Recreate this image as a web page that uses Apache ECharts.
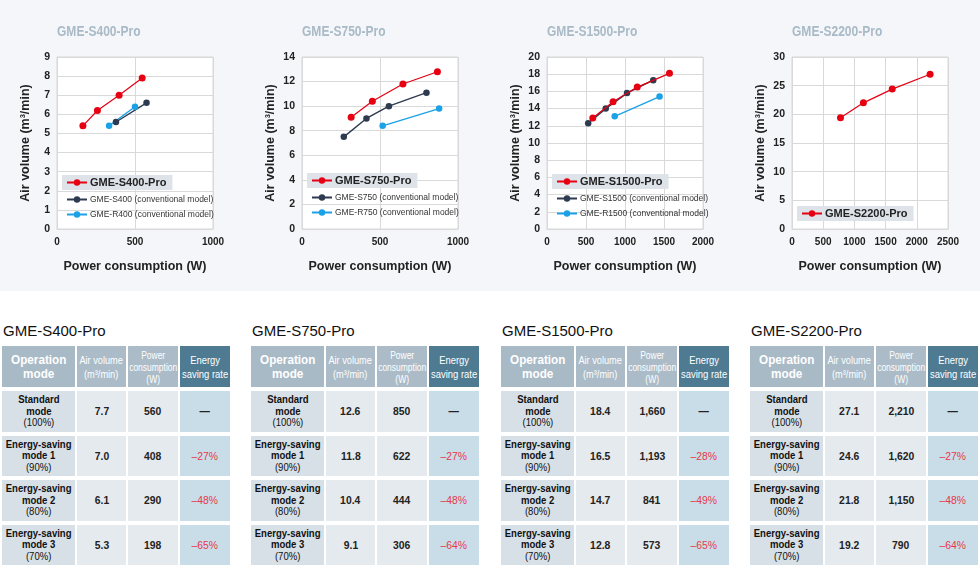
<!DOCTYPE html>
<html>
<head>
<meta charset="utf-8">
<script src="https://cdn.jsdelivr.net/npm/echarts@6/dist/echarts.min.js"></script>
<style>
  body { margin: 0; width: 980px; height: 567px; background: #fff; overflow: hidden; position: relative; font-family: 'Liberation Sans', Arial, sans-serif; }
  #chart { position: absolute; left: 0; top: 0; width: 980px; height: 291px; }
  .tbl { position: absolute; top: 321px; }
  .tbl h3 { margin: 0 0 0 3px; font-size: 15px; font-weight: normal; line-height: 20px; color: #111; }
  table { border-collapse: separate; border-spacing: 2px 4px; table-layout: fixed; width: 232px; margin-top: 1px; }
  td { padding: 0; text-align: center; vertical-align: middle; overflow: hidden; }
  td .f { display: flex; justify-content: center; align-items: center; height: 100%; }
  td .sq { display: inline-block; white-space: nowrap; transform-origin: 50% 50%; }
  tr.head td { height: 41px; color: #fff; }
  tr.body td { height: 40.5px; }
  .c1 { width: 73px; } .c2 { width: 49px; } .c3 { width: 50px; } .c4 { width: 50px; }
  tr.head .c1 { background: #a9bac7; font-size: 13px; font-weight: bold; line-height: 14px; }
  tr.head .c2 { background: #abbcc8; font-size: 11.5px; line-height: 14px; }
  tr.head .c3 { background: #abbcc8; font-size: 11px; line-height: 12px; }
  tr.head .c4 { background: #4e7b92; font-size: 11.5px; line-height: 14px; }
  tr.body .c1 { background: #d7e0e7; font-size: 11.5px; line-height: 11.5px; color: #111; }
  tr.body .c2, tr.body .c3 { background: #e5eaee; font-size: 11.5px; font-weight: bold; color: #222; }
  tr.body .c4 { background: #c9dde9; font-size: 11.5px; color: #e8374a; }
  tr.body .c4.none { color: #222; font-weight: bold; }
</style>
</head>
<body>
<div id="chart"></div>
<div id="tables"></div>
<script>
// ---- chart data ----
const chartTitles = ['GME-S400-Pro', 'GME-S750-Pro', 'GME-S1500-Pro', 'GME-S2200-Pro'];
const yMax = [9, 14, 20, 30];
const yStep = [1, 2, 2, 5];
const xMax = [1000, 1000, 2000, 2500];
const xStep = 500;

const s400ProW = [166, 259, 398, 546];
const s400ProAir = [5.4, 6.2, 7.0, 7.9];
const s400W = [378, 574];
const s400Air = [5.6, 6.6];
const r400W = [334, 500];
const r400Air = [5.4, 6.4];

const s750ProW = [315, 451, 647, 868];
const s750ProAir = [9.1, 10.4, 11.8, 12.8];
const s750W = [268, 413, 557, 798];
const s750Air = [7.5, 9.0, 10.0, 11.1];
const r750W = [517, 879];
const r750Air = [8.4, 9.8];

const s1500ProW = [587, 847, 1157, 1570];
const s1500ProAir = [12.9, 14.8, 16.5, 18.1];
const s1500W = [528, 753, 1026, 1362];
const s1500Air = [12.3, 14.0, 15.8, 17.3];
const r1500W = [868, 1443];
const r1500Air = [13.1, 15.4];

const s2200ProW = [777, 1144, 1606, 2213];
const s2200ProAir = [19.4, 22.0, 24.4, 27.0];

// ---- table data ----
const modeNames = [['Standard', 'mode', '(100%)'], ['Energy-saving', 'mode 1', '(90%)'], ['Energy-saving', 'mode 2', '(80%)'], ['Energy-saving', 'mode 3', '(70%)']];
const tableAir = [[7.7, 7.0, 6.1, 5.3], [12.6, 11.8, 10.4, 9.1], [18.4, 16.5, 14.7, 12.8], [27.1, 24.6, 21.8, 19.2]];
const tablePower = [['560', '408', '290', '198'], ['850', '622', '444', '306'], ['1,660', '1,193', '841', '573'], ['2,210', '1,620', '1,150', '790']];
const tableSaving = [['—', '–27%', '–48%', '–65%'], ['—', '–27%', '–48%', '–64%'], ['—', '–28%', '–49%', '–65%'], ['—', '–27%', '–48%', '–64%']];
const tableLeft = [0, 249, 499, 748];

const RED = '#e60012', NAVY = '#2d3a50', BLUE = '#1ba1e6';
const pts = (xs, ys) => xs.map((x, i) => [x, ys[i]]);

const groups = [
  { pro: ['GME-S400-Pro', s400ProW, s400ProAir], others: [['GME-S400 (conventional model)', s400W, s400Air, NAVY], ['GME-R400 (conventional model)', r400W, r400Air, BLUE]] },
  { pro: ['GME-S750-Pro', s750ProW, s750ProAir], others: [['GME-S750 (conventional model)', s750W, s750Air, NAVY], ['GME-R750 (conventional model)', r750W, r750Air, BLUE]] },
  { pro: ['GME-S1500-Pro', s1500ProW, s1500ProAir], others: [['GME-S1500 (conventional model)', s1500W, s1500Air, NAVY], ['GME-R1500 (conventional model)', r1500W, r1500Air, BLUE]] },
  { pro: ['GME-S2200-Pro', s2200ProW, s2200ProAir], others: [] }
];
const offsets = [0, 245, 490, 735];
const legendTop = [175, 173, 174, 206];

let chart = echarts.init(document.getElementById('chart'));
let option = { backgroundColor: '#f4f6f9', animation: false, graphic: [], grid: [], xAxis: [], yAxis: [], legend: [], series: [] };

groups.forEach((g, i) => {
  let off = offsets[i];
  // chart heading, squeezed to look like the narrow face of the original
  option.graphic.push({
    type: 'text', x: off + 57, y: 24, scaleX: 0.83,
    style: { text: chartTitles[i], fill: '#a9bac7', font: 'bold 14.5px "Liberation Sans", sans-serif' }
  });
  option.grid.push({ left: off + 57, top: 57, width: 156, height: 172, show: true, backgroundColor: '#fff', borderColor: '#d9d9d9', borderWidth: 1 });
  option.xAxis.push({
    type: 'value', gridIndex: i, min: 0, max: xMax[i], interval: xStep,
    name: 'Power consumption (W)', nameLocation: 'middle', nameGap: 31,
    nameTextStyle: { fontSize: 12.5, fontWeight: 'bold', color: '#222' },
    axisLine: { show: true, lineStyle: { color: '#d9d9d9' } }, axisTick: { show: false },
    axisLabel: { color: '#222', fontWeight: 'bold', fontSize: 10, margin: 8, formatter: v => String(v) },
    splitLine: { show: true, lineStyle: { color: '#d9d9d9' } }
  });
  option.yAxis.push({
    type: 'value', gridIndex: i, min: 0, max: yMax[i], interval: yStep[i],
    name: 'Air volume (m³/min)', nameLocation: 'middle', nameGap: 25,
    nameTextStyle: { fontSize: 12.5, fontWeight: 'bold', color: '#222' },
    axisLine: { show: true, lineStyle: { color: '#d9d9d9' } }, axisTick: { show: false },
    axisLabel: { color: '#222', fontWeight: 'bold', fontSize: 10.5, margin: 7 },
    splitLine: { show: true, lineStyle: { color: '#d9d9d9' } }
  });
  option.legend.push({
    data: [g.pro[0]], left: off + 62, top: legendTop[i], selectedMode: false,
    backgroundColor: '#dde3e8', padding: [2, 6, 2, 4], itemWidth: 20, itemHeight: 8,
    textStyle: { fontSize: 11, fontWeight: 'bold', color: '#222', padding: [0, 0, 0, -2] }
  });
  if (g.others.length) {
    option.legend.push({
      data: g.others.map(o => o[0]), orient: 'vertical', left: off + 62, top: legendTop[i] + 20,
      selectedMode: false, padding: [0, 0, 0, 4], itemGap: 6, itemWidth: 20, itemHeight: 8,
      textStyle: { fontSize: 8.5, color: '#333', padding: [0, 0, 0, -2] }
    });
  }
  g.others.forEach(o => {
    option.series.push({
      name: o[0], type: 'line', xAxisIndex: i, yAxisIndex: i, data: pts(o[1], o[2]),
      symbol: 'circle', symbolSize: 6.5, color: o[3], lineStyle: { width: 1.4, color: o[3] }, z: 2
    });
  });
  option.series.push({
    name: g.pro[0], type: 'line', xAxisIndex: i, yAxisIndex: i, data: pts(g.pro[1], g.pro[2]),
    symbol: 'circle', symbolSize: 7, color: RED, lineStyle: { width: 1.2, color: RED }, z: 3
  });
});
chart.setOption(option);

// ---- tables ----
// squeeze text horizontally to imitate the narrow typeface of the original
const sq = (txt, k) => '<div class="f"><span class="sq" style="transform:scaleX(' + k + ')">' + txt + '</span></div>';
let html = '';
chartTitles.forEach((t, i) => {
  html += '<div class="tbl" style="left:' + tableLeft[i] + 'px"><h3>' + t + '</h3><table>';
  html += '<tr class="head"><td class="c1">' + sq('Operation<br>mode', 0.9) + '</td>'
       + '<td class="c2">' + sq('Air volume<br>(m³/min)', 0.8) + '</td>'
       + '<td class="c3">' + sq('Power<br>consumption<br>(W)', 0.77) + '</td>'
       + '<td class="c4">' + sq('Energy<br>saving rate', 0.82) + '</td></tr>';
  modeNames.forEach((m, r) => {
    let s = tableSaving[i][r];
    html += '<tr class="body"><td class="c1">' + sq('<b>' + m[0] + '</b><br><b>' + m[1] + '</b><br>' + m[2], 0.83) + '</td>'
         + '<td class="c2">' + sq(tableAir[i][r].toFixed(1), 0.9) + '</td>'
         + '<td class="c3">' + sq(tablePower[i][r], 0.9) + '</td>'
         + '<td class="c4' + (s === '—' ? ' none' : '') + '">' + sq(s, 0.9) + '</td></tr>';
  });
  html += '</table></div>';
});
document.getElementById('tables').innerHTML = html;
</script>
</body>
</html>
